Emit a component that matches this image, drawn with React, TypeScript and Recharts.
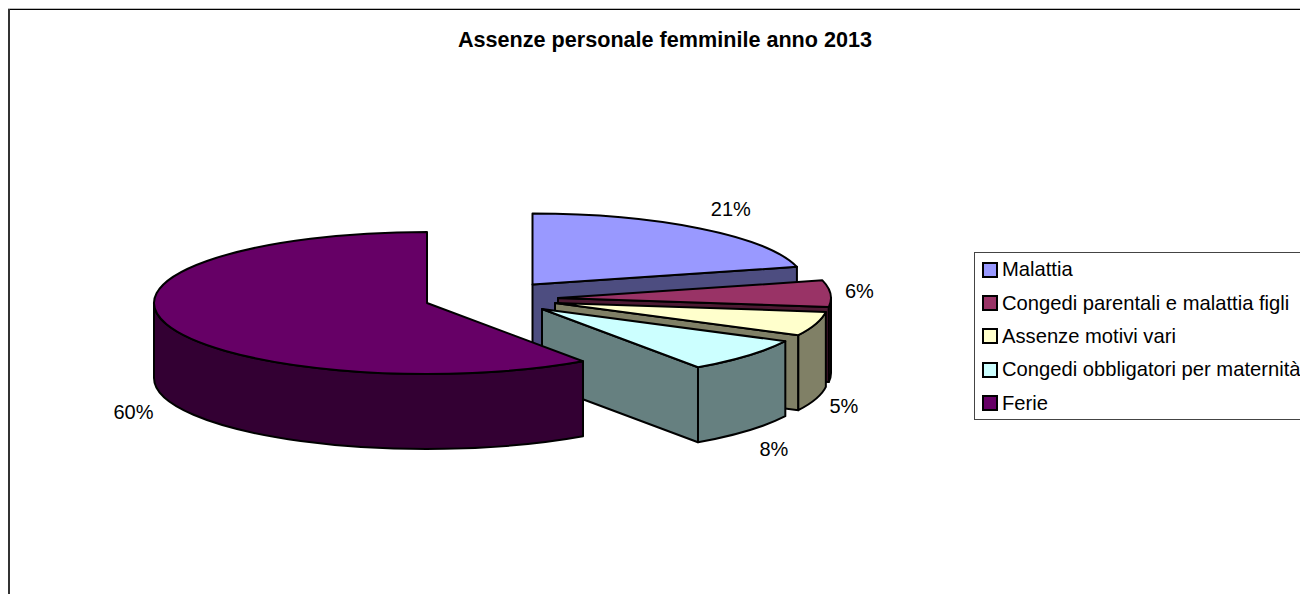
import React from "react";
import { PieChart, Pie, Legend } from "recharts";

const TITLE = "Assenze personale femminile anno 2013";
const CATEGORIES = [
  "Malattia",
  "Congedi parentali e malattia figli",
  "Assenze motivi vari",
  "Congedi obbligatori per maternità",
  "Ferie",
];
const SHARES = [21, 6, 5.49, 7.83, 59.68];
const TOP_COLORS = ["#9999FF", "#993366", "#FFFFCC", "#CCFFFF", "#660066"];
const WALL_COLORS = ["#4D4D80", "#4D1A33", "#808066", "#668080", "#330033"];

// Exploded displacement of each slice from the pie centre
const SLICE_SHIFT = [
  [105.5, -18.5],
  [131, -5],
  [128, 0],
  [115, 6],
  [0, 0],
];
// Label displacement from the slice rim
const LABEL_SHIFT = [
  [31, -19.5],
  [29, -3],
  [28, 82],
  [26, 93],
  [-33, 88],
];

const FONT = '"Liberation Sans", Arial, sans-serif';
const W = 1300;
const H = 586;
const CX = 419;
const CY = 295;
const RX = 273;
const SQUASH = 71 / 273;
const DEPTH = 75;

const rows = CATEGORIES.map((name, i) => ({ name, value: SHARES[i], fill: TOP_COLORS[i] }));

const rad = (d: number) => (d * Math.PI) / 180;

function SliceShape(props: any) {
  const idx = CATEGORIES.indexOf(props.name ?? props.payload?.name);
  const [dx, dy] = SLICE_SHIFT[idx];
  const cx = props.cx + dx;
  const cy = props.cy + dy;
  const rx = props.outerRadius;
  const ry = rx * SQUASH;
  const t0 = 90 - props.startAngle;
  const t1 = 90 - props.endAngle;
  const pt = (t: number, down = 0): [number, number] => [
    cx + rx * Math.sin(rad(t)),
    cy - ry * Math.cos(rad(t)) + down,
  ];
  const arc = (a: number, b: number, down = 0) => {
    const [x, y] = pt(b, down);
    return `A${rx} ${ry} 0 ${b - a > 180 ? 1 : 0} 1 ${x} ${y}`;
  };
  const rev = (a: number, b: number, down = 0) => {
    const [x, y] = pt(b, down);
    return `A${rx} ${ry} 0 ${Math.abs(b - a) > 180 ? 1 : 0} 0 ${x} ${y}`;
  };
  const P = ([x, y]: [number, number]) => `${x} ${y}`;
  const wall = (t: number) =>
    `M${cx} ${cy}L${P(pt(t))}L${P(pt(t, DEPTH))}L${cx} ${cy + DEPTH}Z`;
  const paths: string[] = [];
  if (Math.sin(rad(t0)) < -1e-6) paths.push(wall(t0));
  if (Math.sin(rad(t1)) > 1e-6) paths.push(wall(t1));
  const f0 = Math.max(t0, 90);
  const f1 = Math.min(t1, 270);
  if (f1 > f0) {
    paths.push(
      `M${P(pt(f0))}${arc(f0, f1)}L${P(pt(f1, DEPTH))}${rev(f1, f0, DEPTH)}Z`
    );
  }
  const stroke = {
    stroke: "#000",
    strokeWidth: 2,
    strokeLinejoin: "round" as const,
  };
  return (
    <g>
      {paths.map((d, i) => (
        <path key={i} d={d} fill={WALL_COLORS[idx]} {...stroke} />
      ))}
      <path
        d={`M${cx} ${cy}L${P(pt(t0))}${arc(t0, t1)}Z`}
        fill={TOP_COLORS[idx]}
        {...stroke}
      />
    </g>
  );
}

function renderLabel(props: any) {
  const idx = CATEGORIES.indexOf(props.name ?? props.payload?.name);
  const [dx, dy] = SLICE_SHIFT[idx];
  const [lx, ly] = LABEL_SHIFT[idx];
  const t = 90 - props.midAngle;
  const x = props.cx + dx + props.outerRadius * Math.sin(rad(t)) + lx;
  const y =
    props.cy + dy - props.outerRadius * SQUASH * Math.cos(rad(t)) + ly;
  return (
    <text
      key={idx}
      x={x}
      y={y}
      textAnchor="middle"
      dominantBaseline="central"
      fontFamily={FONT}
      fontSize={20}
      fill="#000"
    >
      {`${Math.round(props.percent * 100)}%`}
    </text>
  );
}

function LegendBox() {
  return (
    <div
      style={{
        width: 334,
        height: 168,
        boxSizing: "border-box",
        borderTop: "1px solid #444",
        borderBottom: "1px solid #444",
        borderLeft: "1px solid #444",
        background: "#fff",
        fontFamily: FONT,
        fontSize: 20.2,
        color: "#000",
      }}
    >
      {CATEGORIES.map((c, i) => (
        <div
          key={c}
          style={{
            height: 33.4,
            display: "flex",
            alignItems: "center",
            paddingLeft: 7,
            whiteSpace: "nowrap",
          }}
        >
          <span
            style={{
              width: 16,
              height: 16,
              boxSizing: "border-box",
              border: "2.5px solid #000",
              background: TOP_COLORS[i],
              marginRight: 4,
              flex: "none",
            }}
          />
          {c}
        </div>
      ))}
    </div>
  );
}

export default function App() {
  return (
    <div style={{ position: "relative", width: W, height: H, overflow: "hidden" }}>
      <PieChart width={W} height={H} margin={{ top: 0, right: 0, bottom: 0, left: 0 }}>
        <text
          x={657}
          y={39}
          textAnchor="middle"
          fontFamily={FONT}
          fontSize={21.6}
          fontWeight="bold"
          fill="#000"
        >
          {TITLE}
        </text>
        <Pie
          data={rows}
          dataKey="value"
          nameKey="name"
          cx={CX}
          cy={CY}
          outerRadius={RX}
          innerRadius={0}
          startAngle={90}
          endAngle={-270}
          paddingAngle={0}
          isAnimationActive={false}
          shape={SliceShape}
          label={renderLabel}
          labelLine={false}
        />
        <Legend
          content={<LegendBox />}
          layout="vertical"
          wrapperStyle={{ position: "absolute", left: 966, top: 244, width: 334, height: 168 }}
        />
      </PieChart>
      <div style={{ position: "absolute", left: 0, top: 0, width: W, height: 1, background: "#bbb" }} />
      <div style={{ position: "absolute", left: 0, top: 1, width: W, height: 1, background: "#000" }} />
      <div style={{ position: "absolute", left: 0, top: 1, width: 2, height: H, background: "#333" }} />
    </div>
  );
}
